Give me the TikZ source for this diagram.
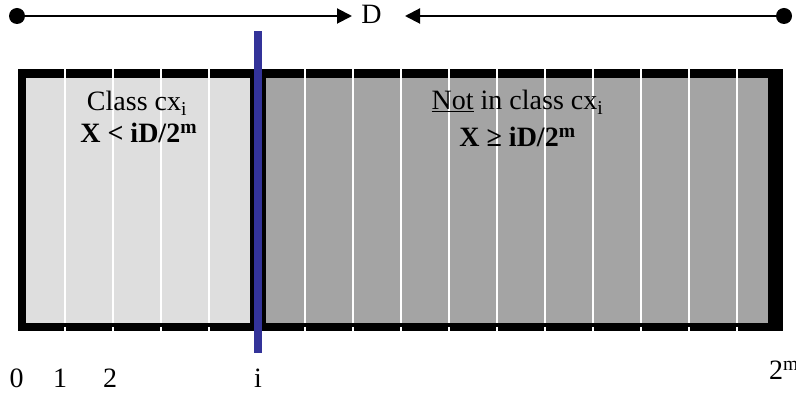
\documentclass[tikz,border=0pt]{standalone}
\usepackage{fontspec}
\setmainfont{Liberation Serif}
\usetikzlibrary{arrows.meta}
\definecolor{lightfill}{HTML}{DEDEDE}
\definecolor{darkfill}{HTML}{A4A4A4}
\definecolor{bluebar}{HTML}{333399}
\tikzset{
  txt/.style={font=\fontsize{28}{33}\selectfont, inner sep=0pt, anchor=base},
  dotnode/.style={circle, fill=black, minimum size=16pt, inner sep=0pt},
  divider/.style={white, line width=2pt},
  dimline/.style={line width=2pt, -{Triangle[length=15pt,width=15pt]}}
}
\begin{document}
\begin{tikzpicture}[x=1pt,y=-1pt]
\useasboundingbox (0,0) rectangle (796,395);
% frame and fills
\fill[black] (18,69) rectangle (783,331);
\fill[lightfill] (26,78) rectangle (250,323);
\fill[darkfill] (266,78) rectangle (768,323);
\foreach \x in {65,113,161,209,305,353,401,449,497,545,593,641,689,737}{
  \draw[divider] (\x,69) -- (\x,323);
  \draw[divider] (\x,327) -- (\x,331);
}
% blue threshold bar
\fill[bluebar] (254,31) rectangle (262,353);
% top dimension arrows
\node[dotnode] (ldot) at (17,16) {};
\node[dotnode] (rdot) at (784,16) {};
\coordinate (tipL) at (352,16);
\coordinate (tipR) at (405,16);
\node[txt] (D) at (371.5,23.3) {D};
\draw[dimline] (ldot.center) -- (tipL);
\draw[dimline] (rdot.center) -- (tipR);
% texts
\node[txt] (cls) at (137,111) {Class cx\textsubscript{i}};
\node[txt] (ineqA) at (138.7,142.3) {\textbf{X < iD/2\textsuperscript{m}}};
\node[txt] (notcls) at (517.5,110) {\underline{Not} in class cx\textsubscript{i}};
\node[txt] (ineqB) at (517.5,146.7) {\textbf{X ≥ iD/2\textsuperscript{m}}};
% bottom labels
\node[txt] (l0) at (16.5,388) {0};
\node[txt] (l1) at (60,388) {1};
\node[txt] (l2) at (110,388) {2};
\node[txt] (li) at (258,388) {i};
\node[txt, anchor=base west] (lm) at (769,380) {2\textsuperscript{m}};
\end{tikzpicture}
\end{document}
